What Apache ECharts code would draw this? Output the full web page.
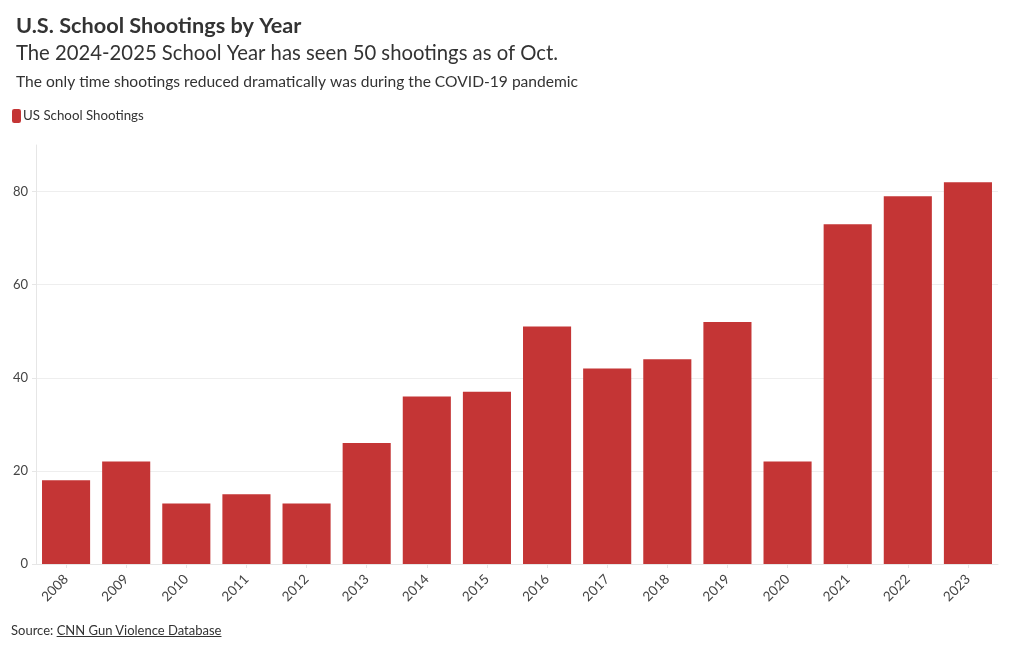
<!DOCTYPE html>
<html><head><meta charset="utf-8">
<script src="https://cdn.jsdelivr.net/npm/echarts@6/dist/echarts.min.js"></script>
<style>
html,body{margin:0;padding:0;background:#fff;}
#c{width:1020px;height:650px;}
#src{position:absolute;left:11px;top:622px;font-family:Lato,"Noto Sans",sans-serif;font-size:13px;color:#333;}
#src span{text-decoration:underline;}
</style></head>
<body>
<div id="c"></div>
<div id="src">Source: <span>CNN Gun Violence Database</span></div>
<script>
const years = ['2008','2009','2010','2011','2012','2013','2014','2015','2016','2017','2018','2019','2020','2021','2022','2023'];
const shootings = [18,22,13,15,13,26,36,37,51,42,44,52,22,73,79,82];
const seriesName = 'US School Shootings';
const yTicks = [0,20,40,60,80];

const font = 'Lato, "Noto Sans", sans-serif';
const chart = echarts.init(document.getElementById('c'));
chart.setOption({
  animation:false,
  textStyle:{fontFamily:font},
  title:[
    {text:'U.S. School Shootings by Year',left:11,top:10,textStyle:{fontFamily:font,fontSize:21.7,fontWeight:'bold',color:'#333'}},
    {text:'The 2024-2025 School Year has seen 50 shootings as of Oct.',left:11,top:38,textStyle:{fontFamily:font,fontSize:20.3,fontWeight:'normal',color:'#333'}},
    {text:'The only time shootings reduced dramatically was during the COVID-19 pandemic',left:11,top:69,textStyle:{fontFamily:font,fontSize:15.6,fontWeight:'normal',color:'#333'}}
  ],
  legend:{left:7,top:104,itemWidth:9,itemHeight:14,itemGap:4,icon:'roundRect',
    textStyle:{fontFamily:font,fontSize:13.3,color:'#333',padding:[0,0,0,-3]},data:[seriesName]},
  grid:{left:36,right:22,top:145,bottom:86,containLabel:false},
  xAxis:{type:'category',data:years,
    axisLine:{show:true,lineStyle:{color:'#e6e6e6'}},
    axisTick:{show:true,alignWithLabel:true,length:4,lineStyle:{color:'#e6e6e6'}},
    axisLabel:{rotate:45,fontSize:13.5,color:'#444',margin:13,fontFamily:font}},
  yAxis:{type:'value',min:0,max:90,interval:20,
    axisLine:{show:true,lineStyle:{color:'#e6e6e6'}},
    axisTick:{show:true,length:4,lineStyle:{color:'#e6e6e6'}},
    axisLabel:{fontSize:13,color:'#444',margin:8,fontFamily:font,showMaxLabel:false,
      formatter:v=>yTicks.includes(v)?String(v):''},
    splitLine:{show:true,lineStyle:{color:['#eeeeee','#eeeeee','#eeeeee','#eeeeee','#eeeeee','rgba(0,0,0,0)']}}},
  series:[{name:seriesName,type:'bar',data:shootings,barCategoryGap:'20%',
    itemStyle:{color:'#c43535'}}]
});
</script>
</body></html>
